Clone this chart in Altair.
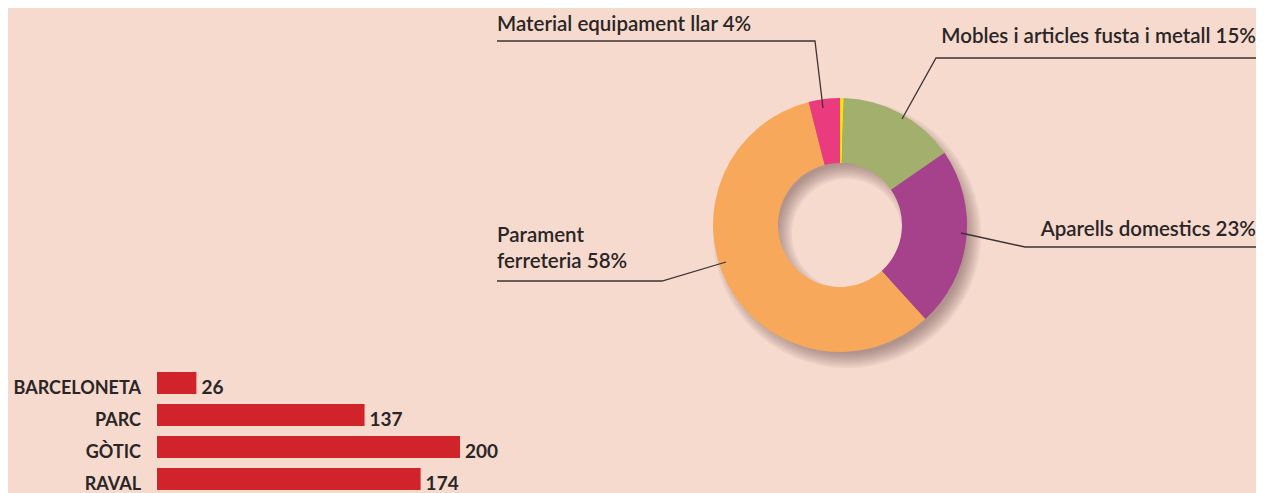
import altair as alt
import pandas as pd

# ---------------- data ----------------
pie_cats = ["Mobles i articles fusta i metall", "Aparells domestics",
            "Parament ferreteria", "Material equipament llar"]
pie_vals = [15, 23, 58, 4]
pie_colors = ["#A3AF6C", "#A5428B", "#F8A85A", "#EA3B7F"]
sep_val = 0.45            # thin yellow separator at 12 o'clock
sep_color = "#FFE100"

bar_cats = ["BARCELONETA", "PARC", "GÒTIC", "RAVAL"]
bar_vals = [26, 137, 200, 174]

# ---------------- layout (pixels, plot-area coordinates) ----------------
BG = "#F6DACE"
TXT = "#2A2526"
FONT = "Lato"
CX, CY = 832, 217
R_OUT, R_IN = 127, 62
SH_DX, SH_DY = 7, 9

label_pos = {
    "Material equipament llar": dict(x=489, y=23, align="left", wrap=False),
    "Mobles i articles fusta i metall": dict(x=1248, y=35, align="right", wrap=False),
    "Aparells domestics": dict(x=1248, y=228, align="right", wrap=False),
    "Parament ferreteria": dict(x=489, y=234, align="left", wrap=True),
}
leader_pts = {
    "Material equipament llar": [(489, 33), (807, 33), (815, 100)],
    "Mobles i articles fusta i metall": [(1250, 50), (928, 50), (894, 111)],
    "Aparells domestics": [(1250, 239), (1017, 239), (953, 225)],
    "Parament ferreteria": [(489, 273), (654, 273), (718, 254)],
}

# ---------------- tables ----------------
pie_df = pd.DataFrame({
    "cat": ["sep"] + pie_cats,
    "value": [sep_val] + pie_vals,
    "idx": list(range(len(pie_cats) + 1)),
})

lab_rows = []
for c, v in zip(pie_cats, pie_vals):
    p = label_pos[c]
    name = c.replace(" ", "\n", 1) if p["wrap"] else c
    lab_rows.append(dict(cat=c, text=f"{name} {v}%", x=p["x"], y=p["y"], align=p["align"]))
lab_df = pd.DataFrame(lab_rows)

line_rows = []
for c, pts in leader_pts.items():
    for i, (x, y) in enumerate(pts):
        line_rows.append(dict(cat=c, i=i, x=x, y=y))
line_df = pd.DataFrame(line_rows)

bar_df = pd.DataFrame({"cat": bar_cats, "value": bar_vals})

# ---------------- layers ----------------
dummy = pd.DataFrame({"a": [0]})
shadow_layers = []
for d in [-7, -5, -3, -1, 1, 3, 5, 7]:
    shadow_layers.append(
        alt.Chart(dummy).mark_arc(
            theta=0, theta2=6.2832,
            radius=R_OUT + d, radius2=max(R_IN - d, 0),
            color="#5A3A35", opacity=0.065,
        ).encode(x=alt.value(CX + SH_DX), y=alt.value(CY + SH_DY))
    )

donut = alt.Chart(pie_df).mark_arc(radius=R_OUT, radius2=R_IN).encode(
    theta=alt.Theta("value:Q", stack=True),
    order=alt.Order("idx:Q"),
    color=alt.Color("cat:N", legend=None,
                    scale=alt.Scale(domain=["sep"] + pie_cats,
                                    range=[sep_color] + pie_colors)),
    x=alt.value(CX), y=alt.value(CY),
)

leaders = alt.Chart(line_df).mark_line(color="#3A3334", strokeWidth=1.3).encode(
    x=alt.X("x:Q", scale=None, axis=None),
    y=alt.Y("y:Q", scale=None, axis=None),
    detail="cat:N",
    order="i:Q",
)

def pie_text(df, align):
    return alt.Chart(df).mark_text(
        align=align, baseline="alphabetic", font=FONT, fontSize=20.5,
        fontWeight=600, color=TXT, lineBreak="\n", lineHeight=26,
    ).encode(
        x=alt.X("x:Q", scale=None, axis=None),
        y=alt.Y("y:Q", scale=None, axis=None),
        text="text:N",
    )

pie_labels_l = pie_text(lab_df[lab_df["align"] == "left"], "left")
pie_labels_r = pie_text(lab_df[lab_df["align"] == "right"], "right")

xs = alt.Scale(domain=[0, 200], range=[149, 452])
ys = alt.Scale(domain=bar_cats, range=[359, 487], paddingInner=0.3125, paddingOuter=0.15625)

bars = alt.Chart(bar_df).mark_bar(color="#D1232A").encode(
    x=alt.X("value:Q", scale=xs, axis=None),
    y=alt.Y("cat:N", scale=ys, axis=None, sort=bar_cats),
)
bar_vals_txt = alt.Chart(bar_df).mark_text(
    align="left", baseline="alphabetic", dx=5, dy=11, font=FONT, fontSize=19,
    fontWeight=700, color=TXT,
).encode(
    x=alt.X("value:Q", scale=xs, axis=None),
    y=alt.Y("cat:N", scale=ys, axis=None, sort=bar_cats),
    text="value:Q",
)
bar_names = alt.Chart(bar_df).mark_text(
    align="right", baseline="alphabetic", dx=-16, dy=11, font=FONT, fontSize=18,
    fontWeight=700, color=TXT,
).encode(
    x=alt.datum(0, scale=xs),
    y=alt.Y("cat:N", scale=ys, axis=None, sort=bar_cats),
    text="cat:N",
)

chart = alt.layer(
    *shadow_layers, donut, leaders, pie_labels_l, pie_labels_r,
    bars, bar_vals_txt, bar_names,
).properties(
    width=1248, height=485, autosize="none", padding=0, background=BG,
).configure_view(stroke=None)

chart.save("out.html", embed_options={"renderer": "svg", "actions": False})
